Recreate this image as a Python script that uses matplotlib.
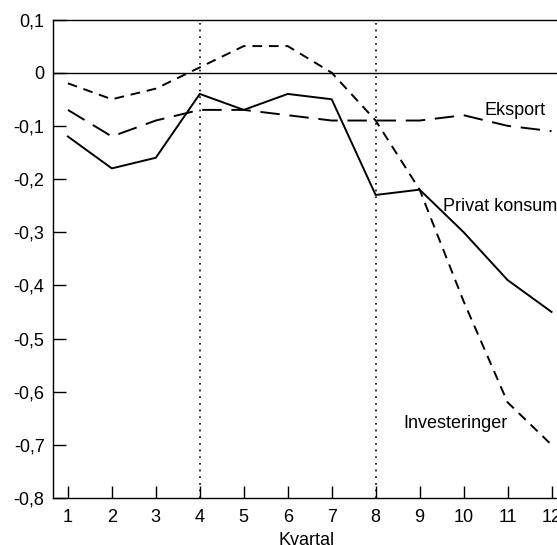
import numpy as np
import matplotlib
matplotlib.use("Agg")
from matplotlib import pyplot as plt
from matplotlib.ticker import FuncFormatter

#%% data
kvartal = [1, 2, 3, 4, 5, 6, 7, 8, 9, 10, 11, 12]
investeringer = [-0.02, -0.05, -0.03, 0.01, 0.05, 0.05, 0.00, -0.09, -0.22, -0.43, -0.62, -0.70]
privat_konsum = [-0.12, -0.18, -0.16, -0.04, -0.07, -0.04, -0.05, -0.23, -0.22, -0.30, -0.39, -0.45]
eksport = [-0.07, -0.12, -0.09, -0.07, -0.07, -0.08, -0.09, -0.09, -0.09, -0.08, -0.10, -0.11]
yticks = [-0.8, -0.7, -0.6, -0.5, -0.4, -0.3, -0.2, -0.1, 0.0, 0.1]
vlines = [4, 8]

#%%
plt.rcParams['font.family'] = ['Liberation Sans', 'DejaVu Sans']

fig = plt.figure(figsize=(5.57, 5.45), dpi=100)
ax = fig.add_axes([0.095, 0.0862, 0.911, 0.878])

lw = 1.4
ax.plot(kvartal, investeringer, color='black', lw=lw, dashes=(5, 3.5))
ax.plot(kvartal, privat_konsum, color='black', lw=lw)
ax.plot(kvartal, eksport, color='black', lw=lw, dashes=(10, 5))

ax.axhline(0, color='black', lw=1.0)
for v in vlines:
    ax.axvline(v, color='black', lw=1.2, ls=(0, (1, 3)))

ax.set_xlim(0.66, 12.2)
ax.set_ylim(-0.8, 0.1)
ax.set_xticks(kvartal)
ax.set_yticks(yticks)
ax.yaxis.set_major_formatter(FuncFormatter(
    lambda v, p: '0' if abs(v) < 1e-9 else ('%.1f' % v).replace('.', ',')))

ax.tick_params(axis='both', direction='in', length=9, width=1.0,
               labelsize=13, colors='black')
ax.tick_params(axis='y', pad=6)
ax.tick_params(axis='x', pad=8)
ax.spines['right'].set_visible(False)
for s in ['left', 'top', 'bottom']:
    ax.spines[s].set_linewidth(1.0)

ax.text(10.48, -0.079, 'Eksport', fontsize=13, va='baseline', ha='left')
ax.text(9.535, -0.261, 'Privat konsum', fontsize=13, va='baseline', ha='left')
ax.text(8.64, -0.668, 'Investeringer', fontsize=13, va='baseline', ha='left')

ax.set_xlabel('Kvartal', fontsize=13, labelpad=4)

fig.savefig('out.png', dpi=100)
